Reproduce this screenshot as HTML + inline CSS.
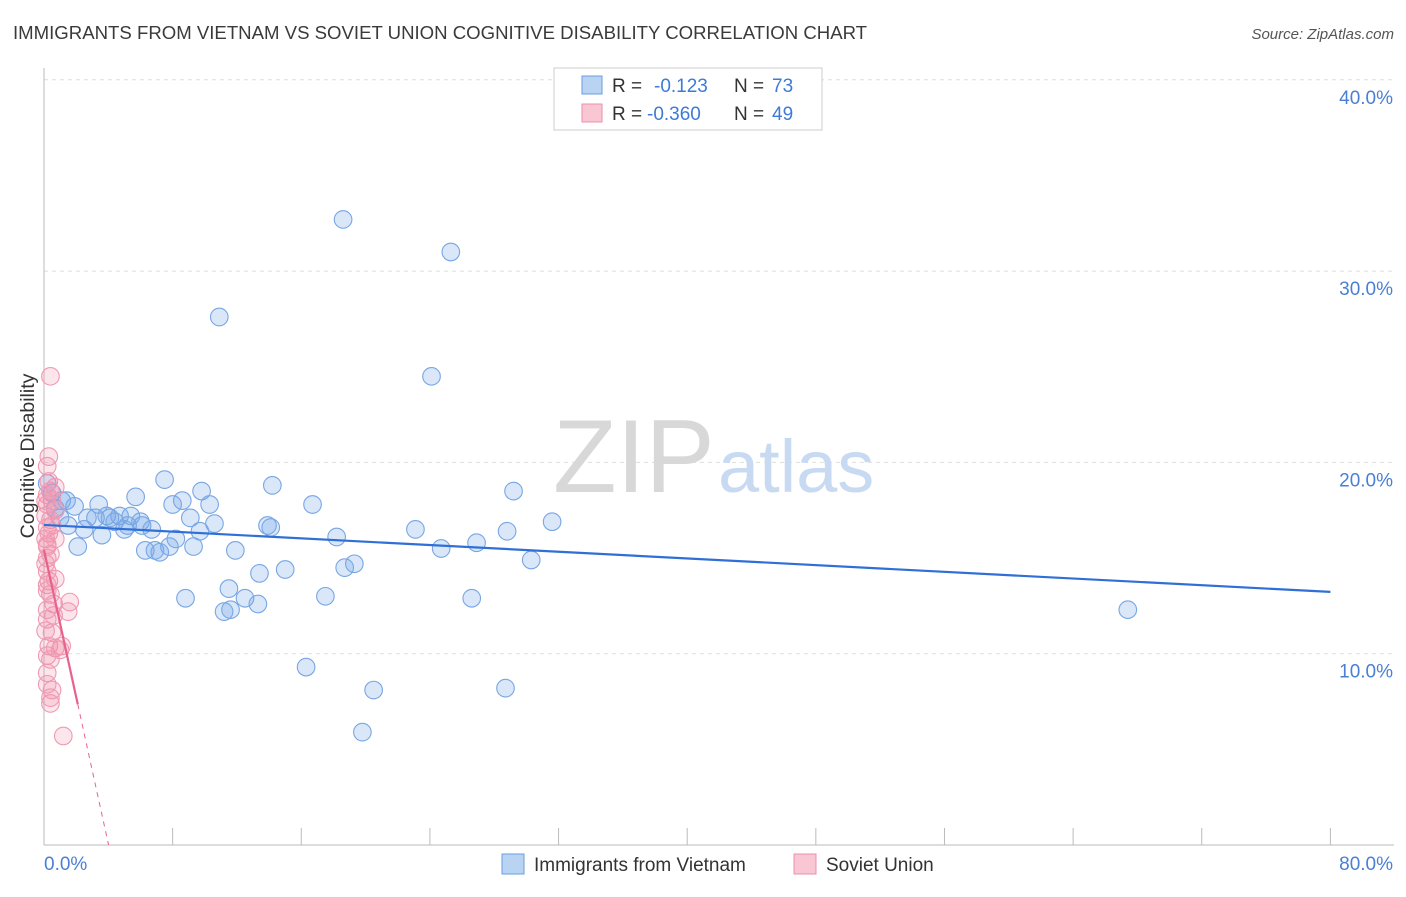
<!DOCTYPE html>
<html><head><meta charset="utf-8"><style>
body{margin:0;background:#fff;font-family:"Liberation Sans",sans-serif}
svg text{font-family:"Liberation Sans",sans-serif}
</style></head><body>
<svg id="chart" width="1406" height="892" xmlns="http://www.w3.org/2000/svg">
<text x="13" y="39" font-size="18.6" fill="#3a3a3a">IMMIGRANTS FROM VIETNAM VS SOVIET UNION COGNITIVE DISABILITY CORRELATION CHART</text>
<text x="1394" y="39" font-size="15" fill="#555" text-anchor="end" font-style="italic">Source: ZipAtlas.com</text>
<g id="grid"></g>
<g>
<text x="553" y="492" font-size="104" font-family="Liberation Serif" fill="#d8d8d8">ZIP</text>
<text x="718" y="492" font-size="74" fill="#c8daf2">atlas</text>
</g>
<line x1="44" y1="845" x2="1394" y2="845" stroke="#bbb"/>
<line x1="44" y1="68" x2="44" y2="845" stroke="#bbb"/>
<g id="ticks"></g>
<g id="pts"></g>
<g id="lines"></g>
<text transform="translate(34,456) rotate(-90)" font-size="19.5" fill="#333" text-anchor="middle">Cognitive Disability</text>
<g>
<rect x="554" y="68" width="268" height="62" fill="#fff" stroke="#ccc"/>
<rect x="582" y="76" width="20" height="18" fill="#b9d3f3" stroke="#6a9ee0"/>
<rect x="582" y="104" width="20" height="18" fill="#f9c6d4" stroke="#ec8fab"/>
<text x="612" y="92" font-size="19" fill="#333">R = </text><text x="654" y="92" font-size="19" fill="#3d7bd6">-0.123</text>
<text x="734" y="92" font-size="19" fill="#333">N = </text><text x="772" y="92" font-size="19" fill="#3d7bd6">73</text>
<text x="612" y="120" font-size="19" fill="#333">R = </text><text x="647" y="120" font-size="19" fill="#3d7bd6">-0.360</text>
<text x="734" y="120" font-size="19" fill="#333">N = </text><text x="772" y="120" font-size="19" fill="#3d7bd6">49</text>
</g>
<g>
<rect x="502" y="854" width="22" height="20" fill="#b9d3f3" stroke="#6a9ee0"/>
<text x="534" y="871" font-size="19" fill="#333">Immigrants from Vietnam</text>
<rect x="794" y="854" width="22" height="20" fill="#f9c6d4" stroke="#ec8fab"/>
<text x="826" y="871" font-size="19" fill="#333">Soviet Union</text>
</g>
</svg>
<script>
const yTicks=[10,20,30,40];
const xTickLabels=["0.0%","80.0%"];
const blueX=[18.6,25.3,10.9,24.1,7.5,5.7,9.8,8.6,3.4,0.7,1.4,1.9,1.0,2.7,4.1,4.7,5.4,6.1,6.7,5.0,3.6,2.5,2.1,8.0,9.1,10.3,10.6,9.7,8.2,7.8,6.9,6.3,7.2,9.3,11.9,14.2,13.9,14.1,16.7,18.2,18.7,19.3,15.0,13.4,23.1,24.7,26.9,28.8,29.2,31.6,30.3,11.5,12.5,13.3,11.2,11.6,8.8,17.5,26.6,16.3,20.5,28.7,19.8,67.4,0.2,0.5,1.1,3.2,4.4,5.2,6.0,3.9,1.5];
const blueY=[32.7,31.0,27.6,24.5,19.1,18.2,18.5,18.0,17.8,17.6,18.0,17.7,17.1,17.1,17.1,17.2,17.2,16.7,16.5,16.5,16.2,16.5,15.6,17.8,17.1,17.8,16.8,16.4,16.0,15.6,15.4,15.4,15.3,15.6,15.4,18.8,16.7,16.6,17.8,16.1,14.5,14.7,14.4,14.2,16.5,15.5,15.8,16.4,18.5,16.9,14.9,13.4,12.9,12.6,12.2,12.3,12.9,13.0,12.9,9.3,8.1,8.2,5.9,12.3,18.9,18.4,18.0,17.1,16.9,16.7,16.9,17.2,16.7];
const pinkX=[0.4,0.3,0.2,0.4,0.7,0.2,0.5,0.2,0.7,0.1,0.4,0.2,0.3,0.1,0.2,0.2,0.1,0.3,0.7,0.2,0.4,1.6,0.6,0.2,1.5,0.2,0.5,0.3,1.1,0.7,0.2,0.4,0.2,0.5,0.2,0.4,1.2,0.1,0.5,0.2,0.6,0.1,0.4,0.2,0.7,0.2,0.4,1.0,0.3];
const pinkY=[24.5,20.3,19.8,18.5,18.7,18.3,18.0,17.8,17.5,17.2,17.0,16.6,16.3,16.0,15.6,15.0,14.7,13.8,13.9,13.6,13.1,12.7,12.6,12.3,12.2,11.8,11.1,10.4,10.4,10.3,9.9,9.7,9.0,8.1,8.4,7.4,5.7,18.0,16.7,14.3,12.0,11.2,7.7,15.7,16.0,13.3,15.2,10.2,19.0];
const blueLine=[16.73,13.23];
const pinkLine=[15.42,-3.84];
const X=v=>44+v*16.08, Y=v=>845-v*19.13;
const NS="http://www.w3.org/2000/svg";
function mk(tag,attrs,parent){const e=document.createElementNS(NS,tag);for(const k in attrs)e.setAttribute(k,attrs[k]);parent.appendChild(e);return e;}
const grid=document.getElementById('grid'),ticks=document.getElementById('ticks');
yTicks.forEach(t=>{
 const l=mk('line',{x1:44,x2:1394,y1:Y(t),y2:Y(t),stroke:'#ddd','stroke-dasharray':'4,4'},grid);
 
 
 const tx=mk('text',{x:1393,y:Y(t)+24,'font-size':19,fill:'#4a7fd4','text-anchor':'end'},ticks);
 tx.textContent=t.toFixed(1)+'%';
 
 
});
for(let i=0;i<=10;i++){
 const l=mk('line',{x1:X(i*8),x2:X(i*8),y1:828,y2:845,stroke:'#bbb'},ticks);
 
 
}
xTickLabels.forEach((s,i)=>{
 const tx=mk('text',{x:i?1393:44,y:870,'font-size':19,fill:'#4a7fd4','text-anchor':i?'end':'start'},ticks);
 tx.textContent=s;
 
 
});
const pts=document.getElementById('pts');
blueX.forEach((x,i)=>{
 const c=mk('circle',{cx:X(x),cy:Y(blueY[i]),r:8.8,fill:'rgba(120,170,235,0.28)',stroke:'#78a6e4','stroke-width':1.1},pts);
 
 
});
pinkX.forEach((x,i)=>{
 const c=mk('circle',{cx:X(x),cy:Y(pinkY[i]),r:8.8,fill:'rgba(240,140,170,0.22)',stroke:'#ef9ab3','stroke-width':1.1},pts);
 
 
});
const lines=document.getElementById('lines');
const bl=mk('line',{x1:X(0),y1:Y(blueLine[0]),x2:X(80),y2:Y(blueLine[1]),stroke:'#2f6fd6','stroke-width':2.2},lines);


const pe=2.1, pz=-pinkLine[0]/pinkLine[1];
const pl=mk('line',{x1:X(0),y1:Y(pinkLine[0]),x2:X(pe),y2:Y(pinkLine[0]+pinkLine[1]*pe),stroke:'#e8628e','stroke-width':2.2},lines);


const pd=mk('line',{x1:X(pe),y1:Y(pinkLine[0]+pinkLine[1]*pe),x2:X(pz),y2:Y(0),stroke:'#e8628e','stroke-width':1,'stroke-dasharray':'5,5'},lines);


</script>
</body></html>
